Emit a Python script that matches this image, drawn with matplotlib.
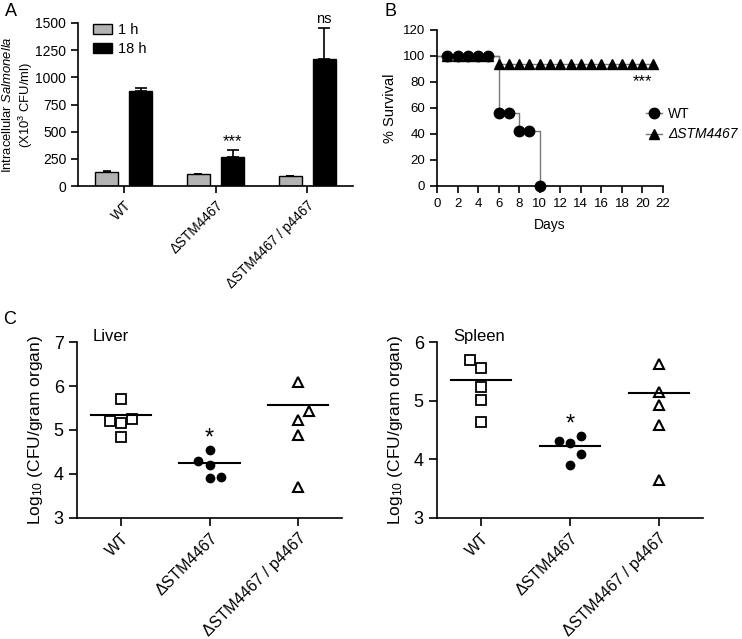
import matplotlib
matplotlib.use("Agg")
import matplotlib.pyplot as plt
import numpy as np

plt.rcParams['font.family'] = ['Liberation Sans', 'DejaVu Sans']
plt.rcParams['mathtext.fontset'] = 'custom'
plt.rcParams['mathtext.rm'] = 'Liberation Sans'
plt.rcParams['mathtext.it'] = 'Liberation Sans:italic'
plt.rcParams['axes.linewidth'] = 1.2
plt.rcParams['xtick.major.width'] = 1.2
plt.rcParams['ytick.major.width'] = 1.2

# ---------------- Data ----------------
# Panel A
strains = ["WT", "\u0394STM4467", "\u0394STM4467 / p4467"]
h1_vals = [133, 110, 90]
h1_err = [4, 3, 3]
h18_vals = [875, 270, 1165]
h18_err = [25, 58, 290]
a_annot = ["", "***", "ns"]

# Panel B
wt_days = [1, 2, 3, 4, 5, 6, 7, 8, 9, 10]
wt_surv = [100, 100, 100, 100, 100, 56, 56, 42, 42, 0]
mut_days = list(range(1, 22))
mut_surv = [100] * 5 + [94] * 16

# Panel C - liver
liver_wt = [5.70, 5.21, 5.17, 5.25, 4.85]
liver_wt_jit = [0, -1, 0, 1, 0]
liver_mut = [4.54, 4.30, 4.20, 3.90, 3.94]
liver_mut_jit = [0, -1, 0, 0, 1]
liver_comp = [6.10, 5.44, 5.23, 4.89, 3.70]
liver_comp_jit = [0, 1, 0, 0, 0]
liver_lines = [5.33, 4.24, 5.57]

# Panel C - spleen
spleen_wt = [5.69, 5.55, 5.23, 5.01, 4.63]
spleen_wt_jit = [-1, 0, 0, 0, 0]
spleen_mut = [4.31, 4.27, 4.39, 4.09, 3.91]
spleen_mut_jit = [-1, 0, 1, 1, 0]
spleen_comp = [5.62, 5.14, 4.93, 4.59, 3.65]
spleen_comp_jit = [0, 0, 0, 0, 0]
spleen_lines = [5.35, 4.23, 5.13]

W, H = 742, 639
fig = plt.figure(figsize=(W / 100, H / 100), dpi=100)


def ax_px(l, t, r, b):
    return fig.add_axes([l / W, 1 - b / H, (r - l) / W, (b - t) / H])


def style(ax, tl=5):
    for s in ['top', 'right']:
        ax.spines[s].set_visible(False)
    ax.tick_params(direction='out', length=tl, color='black')


# ---------------- Panel A ----------------
axA = ax_px(78, 23, 353, 186)
style(axA)
x = np.arange(len(strains))
bw = 0.25
off = 0.186
axA.bar(x - off, h1_vals, bw, color='#b3b3b3', edgecolor='black', linewidth=1.0,
        yerr=[np.zeros(3), h1_err], capsize=3, error_kw=dict(lw=1.2, capthick=1.2), label='1 h', zorder=2)
axA.bar(x + off, h18_vals, bw, color='black', edgecolor='black', linewidth=1.0,
        yerr=[np.zeros(3), h18_err], capsize=4, error_kw=dict(lw=1.2, capthick=1.2), label='18 h', zorder=2)
for i, t in enumerate(a_annot):
    if t == "***":
        axA.text(x[i] + off, h18_vals[i] + h18_err[i] + 10, t, ha='center', va='bottom', fontsize=12)
    elif t:
        axA.text(x[i] + off, h18_vals[i] + h18_err[i] + 15, t, ha='center', va='bottom', fontsize=10.5)
axA.set_xlim(-0.5, 2.5)
axA.set_ylim(0, 1500)
axA.set_yticks([0, 250, 500, 750, 1000, 1250, 1500])
axA.set_xticks(x)
axA.set_xticklabels(strains, rotation=45, ha='right', rotation_mode='anchor', fontsize=9.8)
axA.tick_params(axis='y', labelsize=10)
axA.set_ylabel("Intracellular $\\it{Salmonella}$\n(X10$^3$ CFU/ml)", fontsize=9.4, linespacing=1.15)
axA.yaxis.set_label_coords(-0.158, 0.5)
axA.legend(loc='upper left', bbox_to_anchor=(0.033, 1.035), borderaxespad=0, frameon=False, fontsize=10.5,
           handlelength=1.3, handleheight=0.7, handletextpad=0.45, labelspacing=0.35)
fig.text(5 / W, 1 - 12 / H, "A", fontsize=13, va='center', ha='left')

# ---------------- Panel B ----------------
axB = ax_px(437, 30, 663, 186)
style(axB)
axB.step([0] + mut_days, [100] + mut_surv, where='post', color='#777777', lw=1.0, zorder=1)
axB.plot(mut_days, mut_surv, ls='none', marker='^', ms=7.5, color='black', zorder=3)
axB.step([0] + wt_days, [100] + wt_surv, where='post', color='#777777', lw=1.0, zorder=2)
axB.plot(wt_days, wt_surv, ls='none', marker='o', ms=7.5, color='black', zorder=4, clip_on=False)
lh1, = axB.plot([], [], color='#777777', lw=1.0, marker='o', ms=7.5, mfc='black', mec='black')
lh2, = axB.plot([], [], color='#777777', lw=1.0, marker='^', ms=7.5, mfc='black', mec='black')
axB.set_xlim(0, 22)
axB.set_ylim(0, 120)
axB.set_xticks(range(0, 23, 2))
axB.set_yticks(range(0, 121, 20))
axB.tick_params(labelsize=9.5)
axB.set_xlabel("Days", fontsize=10, labelpad=6)
axB.set_ylabel("% Survival", fontsize=10.5, labelpad=4)
axB.text(20, 80, "***", ha='center', va='center', fontsize=12)
fig.legend([lh1, lh2], ["WT", "\u0394STM4467"], loc='center left',
           bbox_to_anchor=(640 / W, 1 - 124 / H), frameon=False,
           handlelength=1.2, handletextpad=0.4, labelspacing=0.5, borderaxespad=0,
           prop={'size': 10})
leg = fig.legends[-1]
leg.get_texts()[1].set_style('italic')
fig.text(384 / W, 1 - 12 / H, "B", fontsize=13, va='center', ha='left')


# ---------------- Panel C ----------------
def organ_panel(ax, wt, wj, mut, mj, comp, cj, lines, ylo, yhi, title, star_y):
    style(ax, tl=6)
    j = 0.125
    ax.plot(0 + np.array(wj) * j, wt, ls='none', marker='s', ms=6.5, mfc='white', mec='black', mew=1.3)
    ax.plot(1 + np.array(mj) * j, mut, ls='none', marker='o', ms=6, color='black')
    ax.plot(2 + np.array(cj) * j, comp, ls='none', marker='^', ms=6.5, mfc='white', mec='black', mew=1.5)
    for i, v in enumerate(lines):
        ax.plot([i - 0.34, i + 0.34], [v, v], color='black', lw=1.5)
    ax.text(1, star_y, "*", ha='center', va='center', fontsize=17)
    ax.set_xlim(-0.5, 2.5)
    ax.set_ylim(ylo, yhi)
    ax.set_yticks(range(ylo, yhi + 1))
    ax.set_xticks([0, 1, 2])
    ax.set_xticklabels(strains, rotation=45, ha='right', rotation_mode='anchor', fontsize=11.5)
    ax.tick_params(axis='y', labelsize=13)
    ax.tick_params(axis='x', pad=3)
    ax.set_ylabel("Log$_{10}$ (CFU/gram organ)", fontsize=12.5, labelpad=6)
    ax.text(0.06, 1.03, title, transform=ax.transAxes, fontsize=12, va='center', ha='left')


axL = ax_px(77, 342, 342, 518)
organ_panel(axL, liver_wt, liver_wt_jit, liver_mut, liver_mut_jit, liver_comp, liver_comp_jit,
            liver_lines, 3, 7, "Liver", 4.8)
axS = ax_px(437, 342, 703, 518)
organ_panel(axS, spleen_wt, spleen_wt_jit, spleen_mut, spleen_mut_jit, spleen_comp, spleen_comp_jit,
            spleen_lines, 3, 6, "Spleen", 4.6)
fig.text(3 / W, 1 - 320 / H, "C", fontsize=13, va='center', ha='left')

fig.savefig("out.png", dpi=100)
